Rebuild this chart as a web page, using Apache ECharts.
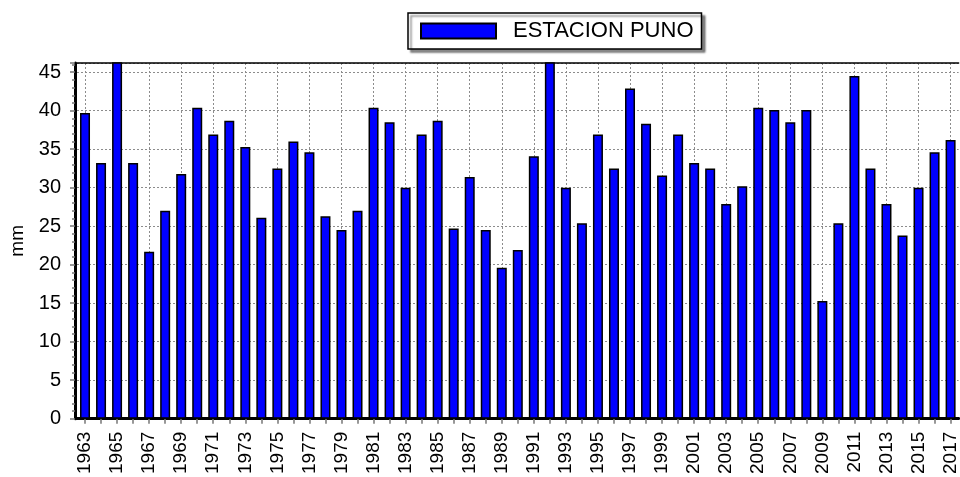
<!DOCTYPE html>
<html>
<head>
<meta charset="utf-8">
<title>ESTACION PUNO</title>
<script src="https://cdn.jsdelivr.net/npm/echarts@6/dist/echarts.min.js"></script>
<style>
    html, body { margin: 0; padding: 0; background: #fff; }
    #main { width: 960px; height: 477px; }
</style>
</head>
<body>
<div id="main"></div>
<script>
// años
var years = ['1963', '1964', '1965', '1966', '1967', '1968', '1969', '1970', '1971', '1972',
    '1973', '1974', '1975', '1976', '1977', '1978', '1979', '1980', '1981', '1982',
    '1983', '1984', '1985', '1986', '1987', '1988', '1989', '1990', '1991', '1992',
    '1993', '1994', '1995', '1996', '1997', '1998', '1999', '2000', '2001', '2002',
    '2003', '2004', '2005', '2006', '2007', '2008', '2009', '2010', '2011', '2012',
    '2013', '2014', '2015', '2016', '2017'];
// precipitacion (mm) - 1965 y 1992 salen del eje
var puno = [39.7, 33.2, 47.0, 33.2, 21.7, 27.0, 31.8, 40.4, 36.9, 38.7,
    35.3, 26.1, 32.5, 36.0, 34.6, 26.3, 24.5, 27.0, 40.4, 38.5,
    30.0, 36.9, 38.7, 24.7, 31.4, 24.5, 19.6, 21.9, 34.1, 47.0,
    30.0, 25.4, 36.9, 32.5, 42.9, 38.3, 31.6, 36.9, 33.2, 32.5,
    27.9, 30.2, 40.4, 40.1, 38.5, 40.1, 15.3, 25.4, 44.5, 32.5,
    27.9, 23.8, 30.0, 34.6, 36.2];
var yMin = 0, yMax = 46.2, yStep = 5;

var myChart = echarts.init(document.getElementById('main'));
var fontName = 'Arial, "Liberation Sans", sans-serif';
var gridDot = { color: '#8c8c8c', width: 1, type: [2, 2] };

var option = {
    animation: false,
    backgroundColor: '#fff',
    legend: {
        left: 408,
        top: 13,
        padding: [7, 8, 7, 12],
        itemWidth: 75,
        itemHeight: 15,
        icon: 'rect',
        backgroundColor: '#fff',
        borderColor: '#000',
        borderWidth: 1.5,
        borderRadius: 0,
        shadowColor: 'rgba(0,0,0,0.45)',
        shadowBlur: 2,
        shadowOffsetX: 3,
        shadowOffsetY: 3,
        textStyle: { fontFamily: fontName, fontSize: 22, color: '#000', padding: [0, 0, 0, 12] },
        data: ['ESTACION PUNO']
    },
    grid: { left: 73.6, top: 63, width: 892, height: 362 },
    xAxis: [{
        type: 'category',
        position: 'bottom',
        data: years,
        boundaryGap: true,
        axisLine: { lineStyle: { color: '#000', width: 3 } },
        axisTick: { show: true, interval: 0, alignWithLabel: true, length: 5, lineStyle: { color: '#777', width: 1.5 } },
        axisLabel: { interval: 1, rotate: 90, margin: 13, fontFamily: fontName, fontSize: 19, color: '#000' },
        // lineas verticales solo en los años con etiqueta
        splitLine: { show: true, interval: 1, alignWithLabel: true, lineStyle: gridDot }
    }, {
        // marco superior
        type: 'category',
        position: 'top',
        data: years,
        axisLine: { lineStyle: { color: '#000', width: 1.5 } },
        axisTick: { show: false },
        axisLabel: { show: false },
        splitLine: { show: false }
    }],
    yAxis: {
        type: 'value',
        min: yMin,
        max: yMax,
        interval: yStep,
        offset: 2,
        name: 'mm',
        nameLocation: 'middle',
        nameGap: 48,
        nameTextStyle: { fontFamily: fontName, fontSize: 19, color: '#000' },
        axisLine: { show: true, lineStyle: { color: '#000', width: 3 } },
        axisTick: { show: true, length: 5, lineStyle: { color: '#777', width: 1.5 } },
        minorTick: { show: true, splitNumber: 5, length: 3, lineStyle: { color: '#777', width: 1.5 } },
        axisLabel: { margin: 14, showMaxLabel: false, fontFamily: fontName, fontSize: 20, color: '#000' },
        splitLine: { show: true, lineStyle: gridDot }
    },
    series: [{
        name: 'ESTACION PUNO',
        type: 'bar',
        xAxisIndex: 0,
        barWidth: 10,
        data: puno,
        itemStyle: { color: '#0000ff', borderColor: '#000', borderWidth: 1.5 }
    }]
};
myChart.setOption(option);
</script>
</body>
</html>
